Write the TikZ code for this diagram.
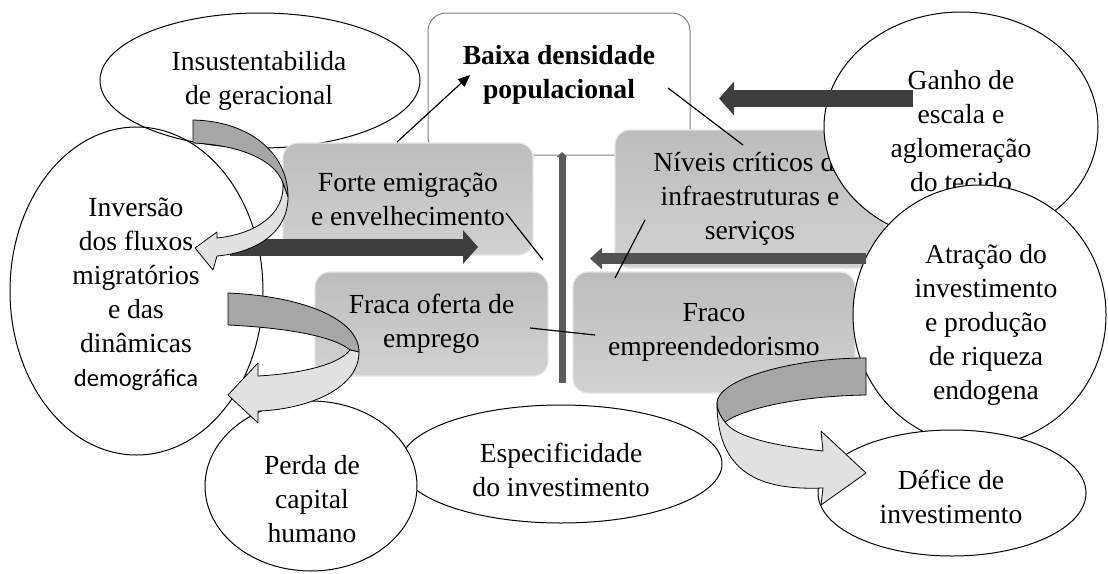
\documentclass[tikz,border=0pt]{standalone}
\usepackage{fontspec}
\setmainfont{Liberation Serif}
\newfontfamily\carlito{Carlito}
\usetikzlibrary{arrows.meta,shapes.geometric}
\definecolor{darkbar}{RGB}{62,62,62}
\definecolor{midbar}{RGB}{82,82,82}
\definecolor{axisbar}{RGB}{92,92,92}
\definecolor{ribdark}{RGB}{166,166,166}
\definecolor{riblight}{RGB}{225,225,225}
\tikzset{
  oval/.style  ={ellipse, draw=black, line width=0.5pt, inner sep=0pt},
  ovalw/.style ={oval, fill=white},
  core/.style  ={rectangle, rounded corners=9pt, draw=black!50, fill=white, line width=0.5pt},
  factor/.style={rectangle, rounded corners=7.5pt, draw=black!10, line width=0.6pt,
                 top color=black!26, bottom color=black!18, inner sep=0pt, align=center,
                 font=\fontsize{13.8}{17}\selectfont},
  lbl/.style   ={align=center, inner sep=0pt, font=\fontsize{13.8}{17}\selectfont},
  lblb/.style  ={lbl, font=\fontsize{13.8}{17}\selectfont\bfseries},
  link/.style  ={line width=0.6pt, black},
  linkarr/.style={link, -{Triangle[length=6pt,width=5pt]}},
  push/.style  ={darkbar, line width=8.5pt, -{Triangle[length=7.5pt,width=16.5pt]}},
  pushs/.style ={midbar, line width=5.5pt, -{Triangle[length=6pt,width=10.5pt]}},
  axis/.style  ={axisbar, line width=3.5pt, -{Triangle[length=2.5pt,width=5pt]}},
  ribbk/.style ={fill=ribdark, draw=black, line width=0.4pt, line join=round},
  ribfr/.style ={fill=riblight, draw=black, line width=0.4pt, line join=round},
}
\begin{document}
\begin{tikzpicture}[x=0.5pt, y=-0.5pt]
  \useasboundingbox (0,0) rectangle (1108,573);
  % left causes
  \node[oval, minimum width=160pt, minimum height=67.5pt] (insust) at (260,80.5) {};
  \node[lbl] (insustT) at (259,81) {Insustentabilida\\de geracional};
  \node[oval, minimum width=126.5pt, minimum height=164pt] (inversao) at (136.5,291) {};
  \node[lbl] (inversaoT) at (136,294) {Inversão\\dos fluxos\\migratórios\\e das\\dinâmicas\\{\carlito\fontsize{12.3}{17}\selectfont demográfica}};
  % core problem
  \node[core, minimum width=131pt, minimum height=71pt] (baixa) at (559,84) {};
  \node[lblb] (baixaT) at (559,75) {Baixa densidade\\populacional};
  % factors
  \node[factor, minimum width=125pt, minimum height=56pt] (forte) at (408,199) {Forte emigração\\e envelhecimento};
  \node[factor, minimum width=135pt, minimum height=69pt] (niveis) at (750,199) {Níveis críticos de\\infraestruturas e\\serviços};
  \node[factor, minimum width=116.5pt, minimum height=52pt] (fracaO) at (431.5,324) {Fraca oferta de\\emprego};
  \node[factor, minimum width=141pt, minimum height=60.5pt] (fraco) at (714,332.5) {Fraco\\empreendedorismo};
  % lower ovals
  \node[ovalw, minimum width=161pt, minimum height=59pt] (espec) at (561,464) {};
  \node[lbl] (especT) at (561,470) {Especificidade\\do investimento};
  \node[ovalw, minimum width=106pt, minimum height=85pt] (perda) at (311,486) {};
  \node[lbl] (perdaT) at (312,499) {Perda de\\capital\\humano};
  % right ovals
  \node[ovalw, minimum width=137pt, minimum height=115pt] (ganho) at (961,127) {};
  \node[lbl] (ganhoT) at (961,131) {Ganho de\\escala e\\aglomeração\\do tecido};
  \node[ovalw, minimum width=126.5pt, minimum height=130pt] (atracao) at (979.5,315) {};
  \node[lbl] (atracaoT) at (986,325) {Atração do\\investimento\\e produção\\de riqueza\\endogena};
  \node[ovalw, minimum width=134pt, minimum height=63pt] (defice) at (952,493) {};
  \node[lbl] (deficeT) at (951,497) {Défice de\\investimento};

  % connector ends
  \coordinate (aFrom) at (230,247);   \coordinate (aTo) at (478,247);
  \coordinate (bFrom) at (913,98.5);  \coordinate (bTo) at (719,98.5);
  \coordinate (cFrom) at (866,258.5); \coordinate (cTo) at (590,258.5);
  \coordinate (axBot) at (562,383);   \coordinate (axTop) at (562,152);
  \coordinate (upFrom) at (397,142);  \coordinate (upTo) at (470,75);
  \coordinate (l1a) at (506,213); \coordinate (l1b) at (543,260);
  \coordinate (l2a) at (668,88);  \coordinate (l2b) at (743,145);
  \coordinate (l3a) at (645,220); \coordinate (l3b) at (615,278);
  \coordinate (l4a) at (530,328); \coordinate (l4b) at (595,335);

  \draw[push]  (aFrom) -- (aTo);
  \draw[push]  (bFrom) -- (bTo);
  \draw[pushs] (cFrom) -- (cTo);
  \draw[axis]  (axBot) -- (axTop);
  \draw[linkarr] (upFrom) -- (upTo);
  \draw[link] (l1a) -- (l1b);
  \draw[link] (l2a) -- (l2b);
  \draw[link] (l3a) -- (l3b);
  \draw[link] (l4a) -- (l4b);

  % curved ribbon arrows
  \draw[ribbk] (193,120) .. controls (248,121) and (288,152) .. (288,197)
    -- (283,183) .. controls (275,160) and (240,145) .. (193,143) -- cycle;
  \draw[ribfr] (288,197) .. controls (288,235) and (252,253) .. (217,256)
    -- (213,270) -- (195,248) -- (217,232) -- (217,238)
    .. controls (255,234) and (285,215) .. (283,183) -- cycle;
  \draw[ribbk] (228,293) .. controls (300,296) and (359,318) .. (359,352)
    -- (350,350) .. controls (335,337) and (290,328) .. (228,325) -- cycle;
  \draw[ribfr] (359,352) .. controls (359,392) and (300,410) .. (258,411)
    -- (258,423) -- (228,395) -- (258,363) -- (258,376)
    .. controls (295,374) and (338,366) .. (350,350) -- cycle;
  \draw[ribbk] (866,358) .. controls (790,358) and (717,380) .. (717,403)
    .. controls (717,410) and (720,416) .. (725,422)
    .. controls (745,408) and (800,396) .. (866,395) -- cycle;
  \draw[ribfr] (717,403) .. controls (717,480) and (770,490) .. (823,488)
    -- (821,505) -- (866,473) -- (821,431) -- (823,451)
    .. controls (775,446) and (735,437) .. (725,422)
    .. controls (720,416) and (717,410) .. (717,403) -- cycle;
\end{tikzpicture}
\end{document}
